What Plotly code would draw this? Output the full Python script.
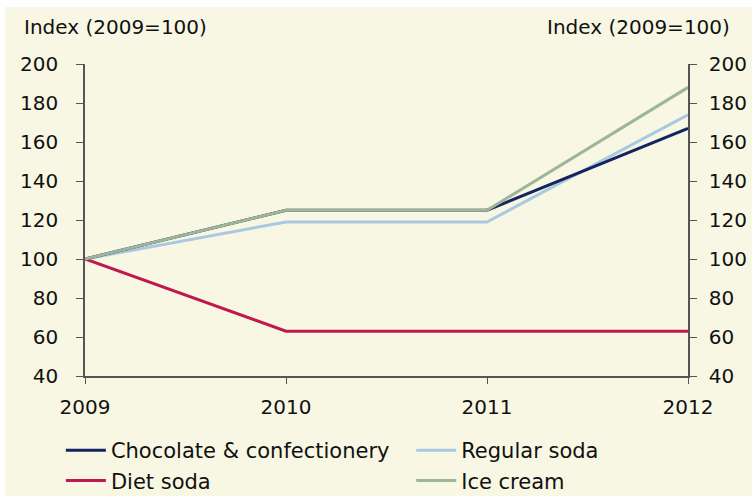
import plotly.graph_objects as go

# Index values (2009 = 100)
years = [2009, 2010, 2011, 2012]
chocolate = [100, 125, 125, 167]
regular_soda = [100, 119, 119, 174]
diet_soda = [100, 63, 63, 63]
ice_cream = [100, 125, 125, 188]

y_ticks = [40, 60, 80, 100, 120, 140, 160, 180, 200]

BG = "#F8F7E3"
AXIS = "#555555"
TXT = "#111111"
FONT = "DejaVu Sans, Verdana, sans-serif"
FS = 20

fig = go.Figure()

# (name, values, colour, legend column)
series = [
    ("Regular soda", regular_soda, "#A9C9E2", "legend2"),
    ("Chocolate & confectionery", chocolate, "#14245F", "legend"),
    ("Diet soda", diet_soda, "#C01850", "legend"),
    ("Ice cream", ice_cream, "#9DB598", "legend2"),
]
for name, vals, color, leg in series:
    fig.add_trace(go.Scatter(
        x=years, y=vals, name=name, mode="lines",
        line=dict(color=color, width=3), legend=leg,
    ))

# Mirror axis on the right-hand side
fig.add_trace(go.Scatter(x=years, y=diet_soda, yaxis="y2", mode="lines",
                         line=dict(width=0), showlegend=False, hoverinfo="skip"))

tick_font = dict(size=FS, color=TXT, family=FONT)
axis_common = dict(
    range=[40, 200], tickvals=y_ticks, ticks="outside", ticklen=7,
    tickcolor=AXIS, showline=True, linecolor=AXIS, linewidth=1.5,
    showgrid=False, zeroline=False, tickfont=tick_font, automargin=False,
)

legend_common = dict(
    orientation="v", yanchor="top", y=-0.173,
    font=dict(size=21, family=FONT, color=TXT),
    bgcolor="rgba(0,0,0,0)", tracegroupgap=0, itemwidth=40,
    traceorder="normal",
)

fig.update_layout(
    width=752, height=496,
    margin=dict(l=85, r=64, t=64, b=120, autoexpand=False),
    paper_bgcolor=BG, plot_bgcolor=BG,
    font=dict(family=FONT, size=FS, color=TXT),
    xaxis=dict(
        range=[2009, 2012], tickvals=years, ticks="outside", ticklen=6,
        tickcolor=AXIS, showline=True, linecolor=AXIS, linewidth=1.5,
        showgrid=False, zeroline=False, tickfont=tick_font,
        ticklabelstandoff=6, automargin=False,
    ),
    yaxis=dict(side="left", ticklabelstandoff=14, **axis_common),
    yaxis2=dict(side="right", overlaying="y", ticklabelstandoff=8, **axis_common),
    legend=dict(x=-0.04, xanchor="left", **legend_common),
    legend2=dict(x=0.541, xanchor="left", **legend_common),
    annotations=[
        dict(text="Index (2009=100)", xref="paper", yref="paper",
             x=-0.1045, y=1.119, xanchor="left", yanchor="middle",
             showarrow=False, font=dict(size=FS)),
        dict(text="Index (2009=100)", xref="paper", yref="paper",
             x=1.073, y=1.119, xanchor="right", yanchor="middle",
             showarrow=False, font=dict(size=FS)),
    ],
    shapes=[
        dict(type="rect", xref="paper", yref="paper", x0=-0.2, x1=1.2,
             y0=1.183, y1=1.3, fillcolor="white", line=dict(width=0), layer="below"),
        dict(type="rect", xref="paper", yref="paper", x0=-0.2, x1=-0.133,
             y0=-0.5, y1=1.3, fillcolor="white", line=dict(width=0), layer="below"),
    ],
)

fig.write_html("out.html")
